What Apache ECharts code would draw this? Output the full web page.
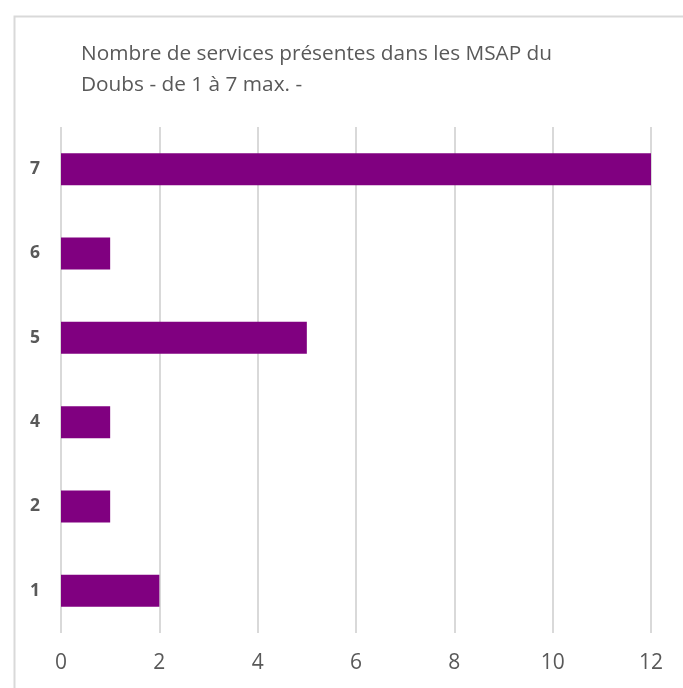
<!DOCTYPE html>
<html><head><meta charset="utf-8">
<script src="https://cdn.jsdelivr.net/npm/echarts@6/dist/echarts.min.js"></script>
<style>html,body{margin:0;padding:0;background:#fff}#c{width:683px;height:688px}</style>
</head><body><div id="c"></div>
<script>
const titleText = "Nombre de services présentes dans les MSAP du\nDoubs - de 1 à 7 max. -";
const categories = ["1", "2", "4", "5", "6", "7"];
const values = [2, 1, 1, 5, 1, 12];
const xTicks = [0, 2, 4, 6, 8, 10, 12];

const chart = echarts.init(document.getElementById('c'), null, {renderer: 'canvas'});
chart.setOption({
  backgroundColor: '#fff',
  animation: false,
  title: {
    text: titleText,
    left: 76, top: 34,
    textStyle: {fontFamily: 'Open Sans', fontSize: 20.8, fontWeight: 'normal', color: '#595959', lineHeight: 31}
  },
  graphic: [{
    type: 'rect', left: 12, top: 14, silent: true,
    shape: {width: 700, height: 700},
    style: {fill: 'none', stroke: '#d9d9d9', lineWidth: 2}
  }],
  grid: {left: 61, right: 32, top: 127, bottom: 55, containLabel: false},
  xAxis: {
    type: 'value', min: xTicks[0], max: xTicks[xTicks.length - 1], interval: 2,
    axisLine: {show: false}, axisTick: {show: false},
    splitLine: {lineStyle: {color: '#d9d9d9', width: 2}},
    axisLabel: {fontFamily: 'Open Sans', fontSize: 21, color: '#595959', margin: 20}
  },
  yAxis: {
    type: 'category', data: categories,
    axisLine: {show: false}, axisTick: {show: false},
    axisLabel: {fontFamily: 'Open Sans', fontSize: 17.5, fontWeight: 'bold', color: '#595959', margin: 21}
  },
  series: [{
    type: 'bar', data: values, barWidth: '38%',
    itemStyle: {color: '#800080'}
  }]
});
</script></body></html>
